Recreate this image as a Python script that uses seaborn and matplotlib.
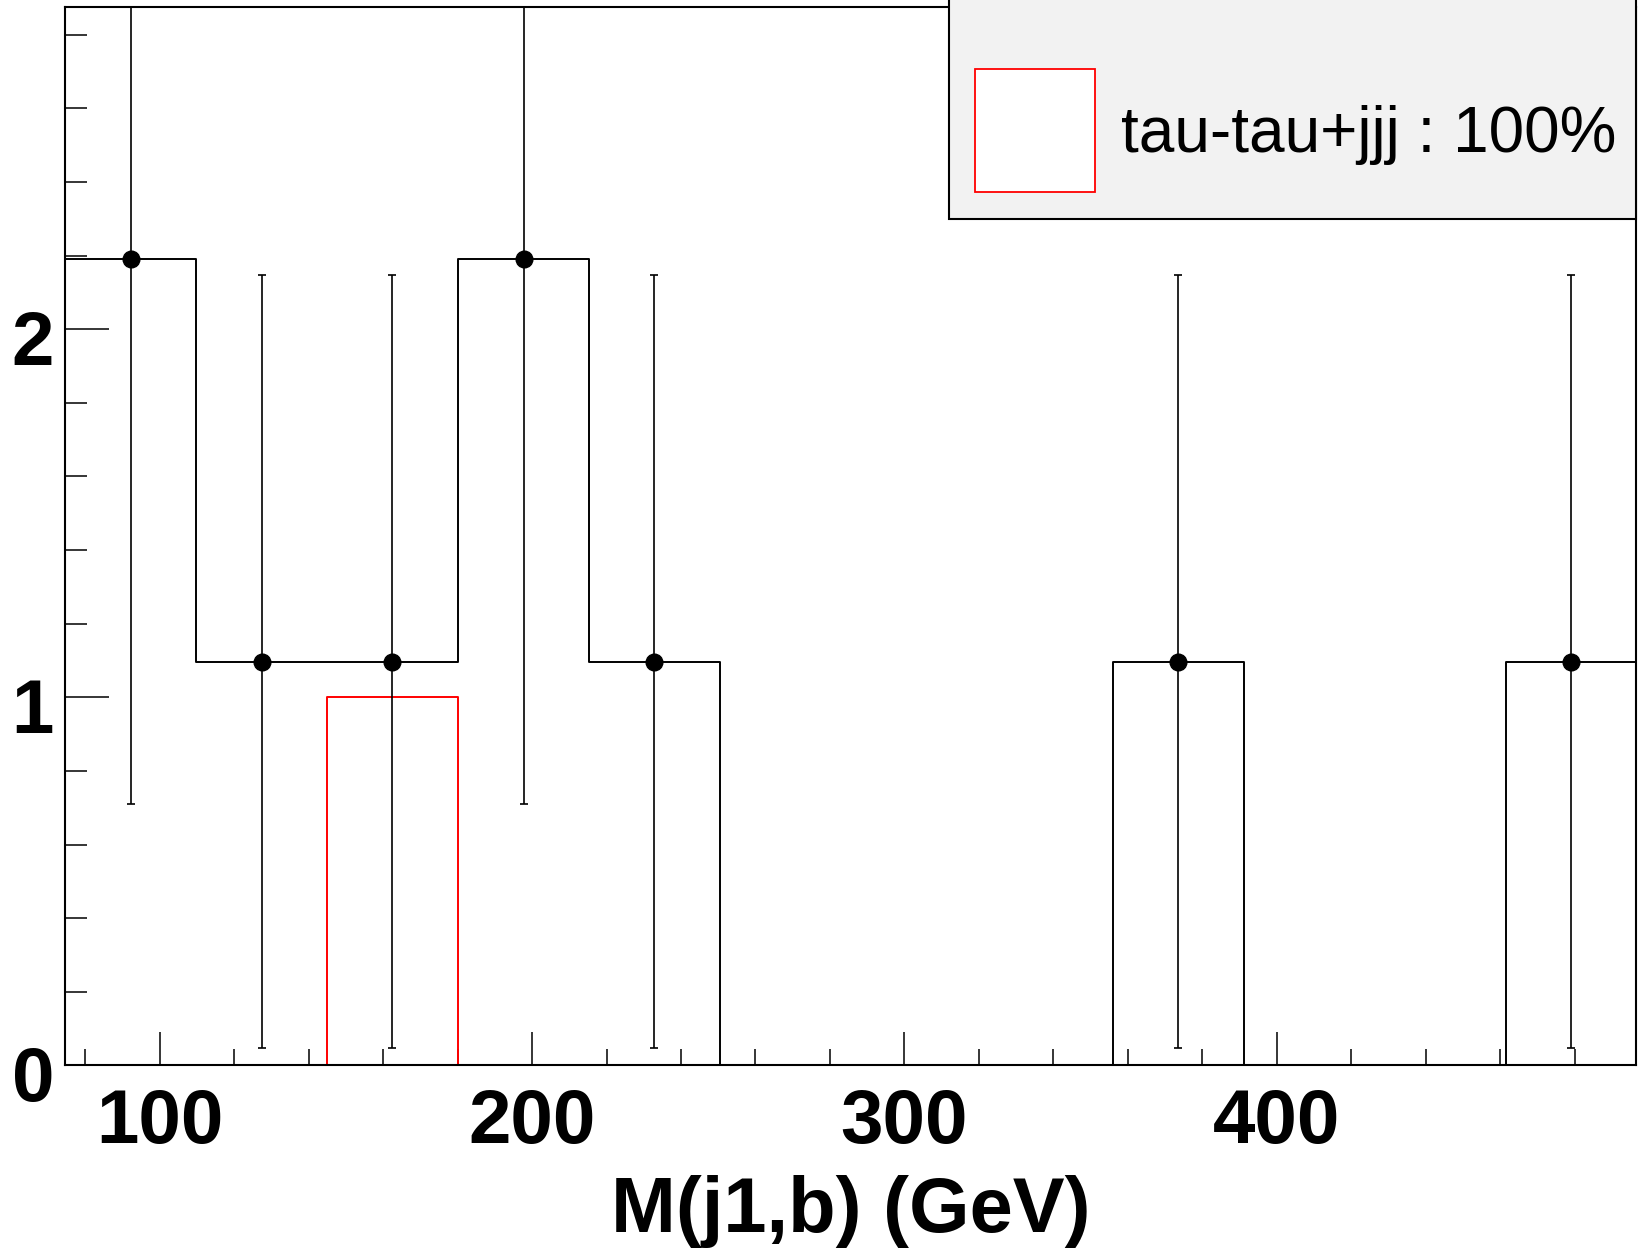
import numpy as np
import pandas as pd
import matplotlib
matplotlib.use("Agg")
import matplotlib.pyplot as plt
import matplotlib.transforms as mtransforms
from matplotlib.patches import Rectangle
from matplotlib.ticker import MultipleLocator
import seaborn as sns

sns.set_style("white")
plt.rcParams["font.family"] = ["Liberation Sans", "DejaVu Sans"]
plt.rcParams["text.color"] = "black"
plt.rcParams["axes.labelcolor"] = "black"
plt.rcParams["xtick.color"] = "black"
plt.rcParams["ytick.color"] = "black"

# histogram binning (GeV)
bin_edges = [74.6, 109.8, 144.9, 180.1, 215.3, 250.4, 285.6,
             320.8, 356.0, 391.1, 426.3, 461.5, 496.6]
# data points (black) and their errors
data_counts = [2.19, 1.097, 1.097, 2.19, 1.097, 0, 0, 0, 1.097, 0, 0, 1.097]
data_errors = [1.48, 1.05, 1.05, 1.48, 1.05, 0, 0, 0, 1.05, 0, 0, 1.05]
# background: tau-tau+jjj (red)
bkg_counts = [0, 0, 1.0, 0, 0, 0, 0, 0, 0, 0, 0, 0]
legend_label = "tau-tau+jjj : 100%"

edges = np.array(bin_edges)
centers = (edges[:-1] + edges[1:]) / 2
df = pd.DataFrame({"x": centers, "data": data_counts,
                   "err": data_errors, "bkg": bkg_counts})

fig = plt.figure(figsize=(16.49, 12.58), dpi=100)
ax = fig.add_axes([0.0395, 0.1531, 0.9529, 0.8410])

sns.histplot(data=df, x="x", weights="bkg", bins=bin_edges, element="step",
             fill=False, color="#ff0000", linewidth=1.4, ax=ax)
sns.histplot(data=df, x="x", weights="data", bins=bin_edges, element="step",
             fill=False, color="black", linewidth=1.4, ax=ax)

pts = df[df["data"] > 0]
ax.errorbar(pts["x"], pts["data"], yerr=pts["err"], fmt="o", color="black",
            ms=12, elinewidth=1.2, capsize=3.2, capthick=1.2)

ax.set_xlim(bin_edges[0], bin_edges[-1])
ax.set_ylim(0, 2.874)
ax.set_ylabel("")
ax.set_xlabel("M(j1,b) (GeV)", fontsize=56, fontweight="bold", labelpad=12)

ax.xaxis.set_major_locator(MultipleLocator(100))
ax.xaxis.set_minor_locator(MultipleLocator(20))
ax.yaxis.set_major_locator(MultipleLocator(1))
ax.yaxis.set_minor_locator(MultipleLocator(0.2))
ax.tick_params(axis="x", which="major", direction="in", length=23.5, width=1.1,
               labelsize=55, pad=16, bottom=True)
ax.tick_params(axis="x", which="minor", direction="in", length=11.5, width=1.1,
               bottom=True)
ax.tick_params(axis="y", which="major", direction="in", length=32, width=1.1,
               labelsize=55, pad=8, left=True)
ax.tick_params(axis="y", which="minor", direction="in", length=16, width=1.1,
               left=True)
shift = mtransforms.ScaledTranslation(0, -8 / 100, fig.dpi_scale_trans)
for lab in ax.get_xticklabels() + ax.get_yticklabels():
    lab.set_fontweight("bold")
for lab in ax.get_yticklabels():
    lab.set_transform(lab.get_transform() + shift)
for sp in ax.spines.values():
    sp.set_linewidth(1.5)
    sp.set_color("black")

# legend box in ROOT style
fig.patches.append(Rectangle((0.5753, 0.8261), 0.4171, 0.2,
                             transform=fig.transFigure, facecolor="#f2f2f2",
                             edgecolor="black", linewidth=1.5, zorder=5))
fig.patches.append(Rectangle((0.5913, 0.8470), 0.0727, 0.0978,
                             transform=fig.transFigure, facecolor="white",
                             edgecolor="#ff0000", linewidth=1.3, zorder=6))
fig.text(0.680, 0.8788, legend_label, fontsize=46, va="baseline", ha="left", zorder=7)

fig.savefig("out.png", dpi=100)
